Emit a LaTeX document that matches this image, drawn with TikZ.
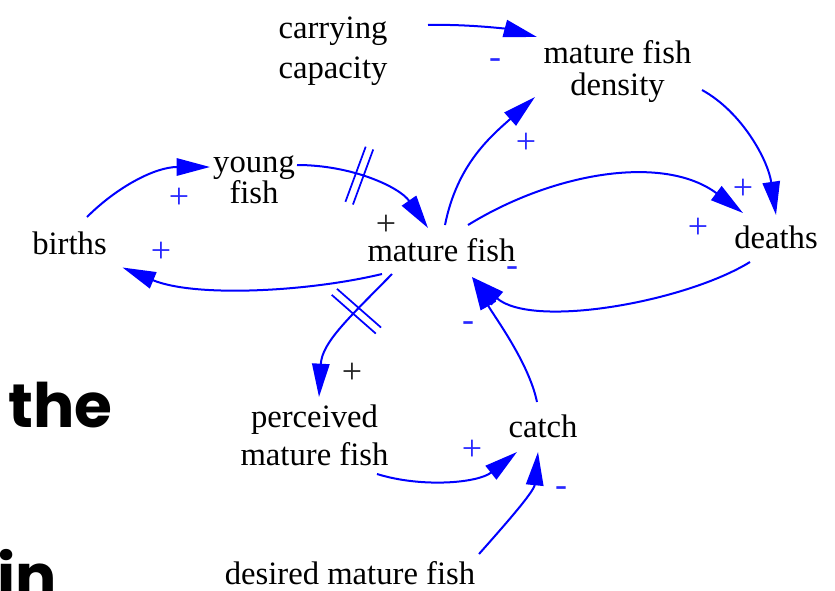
\documentclass[tikz,border=0pt]{standalone}
\usepackage{fontspec}
\setmainfont{Liberation Serif}
\newfontfamily\popfont{Poppins}
\usetikzlibrary{arrows.meta,decorations.markings}
\definecolor{linkblue}{RGB}{0,0,255}
\definecolor{sgnblue}{RGB}{40,40,255}
\begin{document}
\begin{tikzpicture}[x=0.75pt,y=-0.75pt,
  lbl/.style={font=\fontsize{24.5}{28}\selectfont, inner sep=0pt, align=center},
  sgn/.style={font=\fontsize{27}{28}\selectfont, text=sgnblue, inner sep=0pt},
  sgnblack/.style={sgn, text=black!85},
  big/.style={font=\popfont\bfseries\fontsize{46}{48}\selectfont, inner sep=0pt, anchor=base west},
  link/.style={draw=linkblue, line width=1.5pt, -{Triangle[length=25pt,width=13pt]}},
  delaymark/.style={postaction={decorate}, decoration={markings, mark=at position #1 with {\draw[linkblue,line width=1.3pt,-] (-3pt,-22pt)--(-3pt,22pt) (3pt,-22pt)--(3pt,22pt);}}}
]
\clip (0,0) rectangle (835,590);

% big partial words
\node[big] (the) at (8,427) {the};
\node[big] (in) at (-3,598) {in};

% variables
\node[lbl, font=\fontsize{24.5}{30}\selectfont] (cc) at (333,51.5) {carrying\\capacity};
\node[lbl, font=\fontsize{24.5}{24}\selectfont] (mfd) at (617.5,72) {mature fish\\density};
\node[lbl, font=\fontsize{24.5}{20.25}\selectfont] (yf) at (254,180) {young\\fish};
\node[lbl] (births) at (69.5,243) {births};
\node[lbl] (mf) at (441.5,250) {mature fish};
\node[lbl] (deaths) at (776,237) {deaths};
\node[lbl, font=\fontsize{24.5}{28.5}\selectfont] (pmf) at (314.5,435) {perceived\\mature fish};
\node[lbl] (catch) at (543,426) {catch};
\node[lbl] (dmf) at (350,573) {desired mature fish};

% links
\draw[link] ([shift={(95,-26.5)}]cc.center) .. controls +(40,-1) and +(-30,-8) .. ([shift={(-80.5,-35)}]mfd.center);
\draw[link] ([shift={(3.5,-25)}]mf.center) .. controls +(12,-60) and +(-45,40) .. ([shift={(-82.5,25)}]mfd.center);
\draw[link] ([shift={(84.5,18)}]mfd.center) .. controls +(40,22) and +(-8,-55) .. ([shift={(0,-22)}]deaths.center);
\draw[link] ([shift={(26.5,-25)}]mf.center) .. controls +(86,-53) and +(-79,-59) .. ([shift={(-33,-24)}]deaths.center);
\draw[link] ([shift={(-26,25)}]deaths.center) .. controls +(-65,40) and +(61,52) .. ([shift={(30.5,27)}]mf.center);
\draw[link, delaymark=0.42] ([shift={(43,-15)}]yf.center) .. controls +(55,0) and +(-28.5,-41) .. ([shift={(-13.5,-22)}]mf.center);
\draw[link] ([shift={(17.5,-26)}]births.center) .. controls +(30,-30) and +(-55,0) .. ([shift={(-44,-13)}]yf.center);
\draw[link] ([shift={(-59.5,24)}]mf.center) .. controls +(-75,18) and +(72,30) .. ([shift={(53,24.5)}]births.center);
\draw[link, delaymark=0.35] ([shift={(-49.5,24)}]mf.center) .. controls +(-42,43) and +(3,-55) .. ([shift={(4.5,-38)}]pmf.center);
\draw[link] ([shift={(62.5,39)}]pmf.center) .. controls +(45,14) and +(-39,31) .. ([shift={(-26,26)}]catch.center);
\draw[link] ([shift={(129,-19)}]dmf.center) .. controls +(23,-26) and +(-4,40) .. ([shift={(-5,26)}]catch.center);
\draw[link] ([shift={(-6,-24)}]catch.center) .. controls +(-8,-39) and +(22,39) .. ([shift={(30.5,27)}]mf.center);

% polarities
\node[sgn] (s1) at (495,64) {-};
\node[sgn] (s2) at (526,143) {+};
\node[sgn] (s3) at (743,189) {+};
\node[sgn] (s4) at (698,228) {+};
\node[sgn] (s5) at (512,272) {-};
\node[sgnblack] (s6) at (386,225) {+};
\node[sgn] (s7) at (179,198) {+};
\node[sgn] (s8) at (161,252) {+};
\node[sgnblack] (s9) at (352,373) {+};
\node[sgn] (s10) at (472,450) {+};
\node[sgn] (s11) at (561,492) {-};
\node[sgn] (s12) at (468,327) {-};
\end{tikzpicture}
\end{document}
